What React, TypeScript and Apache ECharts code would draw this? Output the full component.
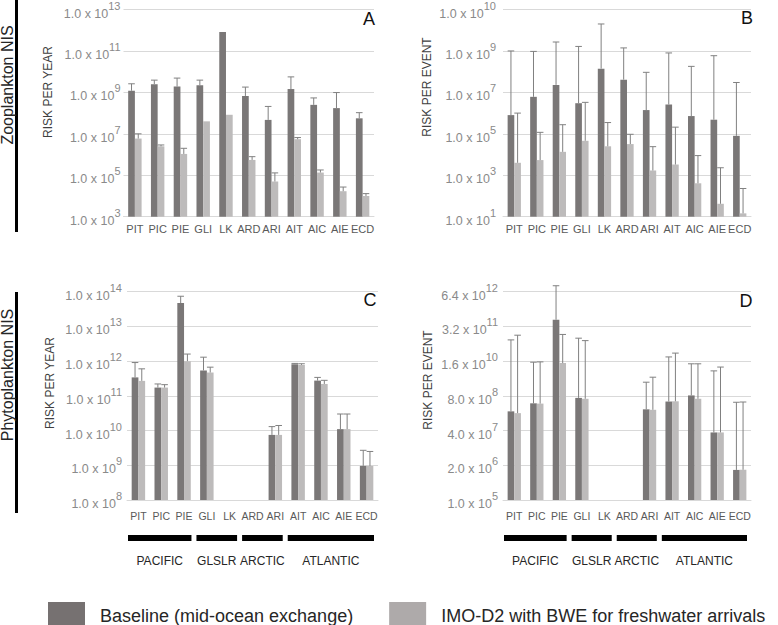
import React, { useEffect, useRef } from "react";
import * as echarts from "echarts";

// ---------- data ----------
const categories = ["PIT", "PIC", "PIE", "GLI", "LK", "ARD", "ARI", "AIT", "AIC", "AIE", "ECD"];

const regions = [
  { name: "PACIFIC", from: 0, to: 2 },
  { name: "GLSLR", from: 3, to: 4 },
  { name: "ARCTIC", from: 5, to: 6 },
  { name: "ATLANTIC", from: 7, to: 10 },
];

const BASE_NAME = "Baseline (mid-ocean exchange)";
const IMO_NAME = "IMO-D2 with BWE for freshwater arrivals";

// A: Zooplankton, risk per year
const zooYearTicks = ["1.0 x 10^3", "1.0 x 10^5", "1.0 x 10^7", "1.0 x 10^9", "1.0 x 10^11", "1.0 x 10^13"];
const zooBaselineYear = [1.2e9, 2.5e9, 1.9e9, 2.2e9, 8.3e11, 6.7e8, 4.7e7, 1.45e9, 2.5e8, 1.74e8, 5.6e7];
const zooBaselineYearErr = [2.6e9, 3.9e9, 4.9e9, 3.9e9, null, 1.8e9, 2.1e8, 5.6e9, 5.4e8, 9.8e8, 1.05e8];
const zooImoYear = [5.9e6, 2.5e6, 1.07e6, 4.0e7, 8.3e7, 5.5e5, 5.0e4, 5.5e6, 1.35e5, 1.7e4, 1.0e4];
const zooImoYearErr = [1.0e7, 2.9e6, 2.0e6, null, null, 7.9e5, 1.3e5, 6.6e6, 1.8e5, 2.7e4, 1.3e4];

// B: Zooplankton, risk per event
const zooEventTicks = ["1.0 x 10^1", "1.0 x 10^3", "1.0 x 10^5", "1.0 x 10^7", "1.0 x 10^9", "1.0 x 10^10"];
const zooBaselineEvent = [8.0e5, 6.1e6, 2.3e7, 3.0e6, 1.4e8, 4.1e7, 1.4e6, 2.6e6, 7.2e5, 4.8e5, 8.0e4];
const zooBaselineEventErr = [1.0e9, 9.5e8, 2.7e9, 1.65e9, 2.0e10, 1.4e9, 9.3e7, 8.0e8, 1.8e8, 5.9e8, 3.0e7];
const zooImoEvent = [4.0e3, 5.4e3, 1.35e4, 4.6e4, 2.5e4, 3.2e4, 1.7e3, 3.3e3, 4.1e2, 42, 14.5];
const zooImoEventErr = [1.0e6, 1.18e5, 2.75e5, 3.3e6, 3.5e5, 9.5e4, 2.4e4, 2.1e5, 8.9e3, 2.3e3, 2.3e2];

// C: Phytoplankton, risk per year
const phytoYearTicks = ["1.0 x 10^8", "1.0 x 10^9", "1.0 x 10^10", "1.0 x 10^11", "1.0 x 10^12", "1.0 x 10^13", "1.0 x 10^14"];
const phytoBaselineYear = [3.4e11, 1.73e11, 4.7e13, 5.4e11, null, null, 7.5e9, 8.2e11, 2.75e11, 1.1e10, 9.6e8];
const phytoBaselineYearErr = [9.1e11, 2.2e11, 7.4e13, 1.3e12, null, null, 1.3e10, 8.6e11, 3.4e11, 3.0e10, 2.7e9];
const phytoImoYear = [2.7e11, 1.73e11, 1.0e12, 4.7e11, null, null, 7.5e9, 7.8e11, 2.2e11, 1.1e10, 9.6e8];
const phytoImoYearErr = [6.0e11, 2.1e11, 1.6e12, 6.7e11, null, null, 1.4e10, 8.4e11, 2.8e11, 3.0e10, 2.5e9];

// D: Phytoplankton, risk per event
const phytoEventTicks = ["1.0 x 10^5", "2.0 x 10^6", "4.0 x 10^7", "8.0 x 10^8", "1.6 x 10^10", "3.2 x 10^11", "6.4 x 10^12"];
const phytoBaselineEvent = [2.1e8, 4.2e8, 5.7e11, 6.7e8, null, null, 2.5e8, 4.9e8, 8.3e8, 3.4e7, 1.34e6];
const phytoBaselineEventErr = [1.0e11, 1.46e10, 1.07e13, 1.16e11, null, null, 2.6e9, 2.3e10, 1.27e10, 6.9e9, 4.6e8];
const phytoImoEvent = [1.8e8, 4.1e8, 1.35e10, 6.2e8, null, null, 2.4e8, 5.0e8, 6.2e8, 3.4e7, 1.36e6];
const phytoImoEventErr = [1.5e11, 1.5e10, 1.6e11, 9.4e10, null, null, 4.0e9, 3.2e10, 1.27e10, 9.6e9, 4.7e8];

// ---------- styles / layout ----------
const DARK = "#7a7777";
const LIGHT = "#bdbbbb";
const ERR = "#808080";
const GRIDLINE = "#d9d9d9";
const TICK_COLOR = "#8a8a8a";
const SANS = "'Liberation Sans', Arial, sans-serif";
const BAR_FRAC = 0.295;

type Num = number | null;
interface Panel {
  base: number;
  min: number;
  ticks: string[];
  baseline: Num[];
  baselineErr: Num[];
  imo: Num[];
  imoErr: Num[];
  grid: { left: number; top: number; width: number; height: number };
  catSize: number;
  catMargin: number;
  tickMargin: number;
  letter: string;
  letterPos: [number, number];
  title: string;
  titlePos: [number, number];
}

const panels: Panel[] = [
  {
    base: 100, min: 1e3, ticks: zooYearTicks,
    baseline: zooBaselineYear, baselineErr: zooBaselineYearErr, imo: zooImoYear, imoErr: zooImoYearErr,
    grid: { left: 123.5, top: 7.3, width: 250.5, height: 209.4 },
    catSize: 11, catMargin: 7, tickMargin: 3,
    letter: "A", letterPos: [369, 19], title: "RISK PER YEAR", titlePos: [48, 92],
  },
  {
    base: 100, min: 10, ticks: zooEventTicks,
    baseline: zooBaselineEvent, baselineErr: zooBaselineEventErr, imo: zooImoEvent, imoErr: zooImoEventErr,
    grid: { left: 503, top: 7.3, width: 248, height: 209.4 },
    catSize: 11, catMargin: 7, tickMargin: 7,
    letter: "B", letterPos: [747, 18], title: "RISK PER EVENT", titlePos: [427, 87],
  },
  {
    base: 10, min: 1e8, ticks: phytoYearTicks,
    baseline: phytoBaselineYear, baselineErr: phytoBaselineYearErr, imo: phytoImoYear, imoErr: phytoImoYearErr,
    grid: { left: 127, top: 291.7, width: 251, height: 208.3 },
    catSize: 10.5, catMargin: 10, tickMargin: 5,
    letter: "C", letterPos: [370, 300], title: "RISK PER YEAR", titlePos: [50, 383],
  },
  {
    base: 20, min: 1e5, ticks: phytoEventTicks,
    baseline: phytoBaselineEvent, baselineErr: phytoBaselineEventErr, imo: phytoImoEvent, imoErr: phytoImoEventErr,
    grid: { left: 503, top: 291.7, width: 248, height: 208.3 },
    catSize: 10.5, catMargin: 10, tickMargin: 5,
    letter: "D", letterPos: [746, 301], title: "RISK PER EVENT", titlePos: [428, 380],
  },
];

const toStep = (p: Panel, v: number) => Math.log(v / p.min) / Math.log(p.base);

const makeErrRender = (sign: number) => (params: any, api: any) => {
  const c = api.value(0);
  const v = api.value(1);
  const e = api.value(2);
  const p0 = api.coord([c, v]);
  const p1 = api.coord([c, e]);
  const band = api.size([1, 0])[0];
  const x = p0[0] + (sign * band * BAR_FRAC) / 2;
  const half = 3.3;
  return {
    type: "group",
    children: [
      { type: "line", shape: { x1: x, y1: p0[1], x2: x, y2: p1[1] }, style: { stroke: ERR, lineWidth: 1 } },
      { type: "line", shape: { x1: x - half, y1: p1[1], x2: x + half, y2: p1[1] }, style: { stroke: ERR, lineWidth: 1 } },
    ],
  };
};

function buildOption() {
  const grid: any[] = [];
  const xAxis: any[] = [];
  const yAxis: any[] = [];
  const series: any[] = [];
  const graphic: any[] = [];

  panels.forEach((p, i) => {
    grid.push({ ...p.grid, containLabel: false });
    xAxis.push({
      type: "category",
      gridIndex: i,
      data: categories,
      axisTick: { show: false },
      axisLine: { show: true, lineStyle: { color: GRIDLINE, width: 1 } },
      axisLabel: { interval: 0, fontSize: p.catSize, color: "#595959", fontFamily: SANS, margin: p.catMargin },
    });
    const steps = p.ticks.length - 1;
    yAxis.push({
      type: "value",
      gridIndex: i,
      min: 0,
      max: steps,
      interval: 1,
      axisLine: { show: false },
      axisTick: { show: false },
      splitLine: { show: true, lineStyle: { color: GRIDLINE, width: 1 } },
      axisLabel: {
        margin: p.tickMargin,
        formatter: (val: number) => {
          const lbl = p.ticks[Math.round(val)] || "";
          const [m, e] = lbl.split("^");
          return `{m|${m}}{e|${e}}`;
        },
        rich: {
          m: { fontSize: 12.5, color: TICK_COLOR, fontFamily: SANS, padding: [8, 0, 0, 0] },
          e: { fontSize: 11, color: TICK_COLOR, fontFamily: SANS, padding: [0, 0, 8, 0] },
        },
      },
    });

    const mk = (arr: Num[]) => arr.map((v) => (v == null ? null : toStep(p, v)));
    series.push({
      name: BASE_NAME, type: "bar", xAxisIndex: i, yAxisIndex: i,
      data: mk(p.baseline), barWidth: `${BAR_FRAC * 100}%`, barGap: "0%",
      itemStyle: { color: DARK }, silent: true,
    });
    series.push({
      name: IMO_NAME, type: "bar", xAxisIndex: i, yAxisIndex: i,
      data: mk(p.imo), barWidth: `${BAR_FRAC * 100}%`, barGap: "0%",
      itemStyle: { color: LIGHT }, silent: true,
    });
    const errData = (vals: Num[], errs: Num[]) =>
      vals
        .map((v, k) => (v != null && errs[k] != null ? [k, toStep(p, v), toStep(p, errs[k] as number)] : null))
        .filter((d) => d != null);
    series.push({
      type: "custom", name: "errBase" + i, xAxisIndex: i, yAxisIndex: i, coordinateSystem: "cartesian2d",
      renderItem: makeErrRender(-1), data: errData(p.baseline, p.baselineErr), encode: { x: 0, y: [1, 2] },
      z: 5, silent: true, clip: false,
    });
    series.push({
      type: "custom", name: "errImo" + i, xAxisIndex: i, yAxisIndex: i, coordinateSystem: "cartesian2d",
      renderItem: makeErrRender(1), data: errData(p.imo, p.imoErr), encode: { x: 0, y: [1, 2] },
      z: 5, silent: true, clip: false,
    });

    graphic.push({
      type: "text", x: p.letterPos[0], y: p.letterPos[1],
      style: { text: p.letter, fontSize: 18, fill: "#111", fontFamily: SANS, align: "center", verticalAlign: "middle" },
    });
    graphic.push({
      type: "text", x: p.titlePos[0], y: p.titlePos[1], rotation: Math.PI / 2,
      style: { text: p.title, fontSize: 12, fill: "#404040", fontFamily: SANS, align: "center", verticalAlign: "middle" },
    });

    // region bars under the bottom panels
    if (i >= 2) {
      const band = p.grid.width / categories.length;
      regions.forEach((r) => {
        const x0 = p.grid.left + r.from * band + 1;
        const x1 = p.grid.left + (r.to + 1) * band - 4;
        graphic.push({ type: "rect", shape: { x: x0, y: 535, width: x1 - x0, height: 6 }, style: { fill: "#000" } });
        graphic.push({
          type: "text", x: (x0 + x1) / 2, y: 561,
          style: { text: r.name, fontSize: 12, fill: "#262626", fontFamily: SANS, align: "center", verticalAlign: "middle" },
        });
      });
    }
  });

  // row labels and bars
  graphic.push({ type: "rect", shape: { x: 15, y: 0, width: 3, height: 232 }, style: { fill: "#000" } });
  graphic.push({ type: "rect", shape: { x: 15, y: 292, width: 3, height: 221 }, style: { fill: "#000" } });
  graphic.push({
    type: "text", x: 7, y: 85, rotation: Math.PI / 2,
    style: { text: "Zooplankton NIS", fontSize: 16, fill: "#262626", fontFamily: SANS, align: "center", verticalAlign: "middle" },
  });
  graphic.push({
    type: "text", x: 7, y: 375, rotation: Math.PI / 2,
    style: { text: "Phytoplankton NIS", fontSize: 16, fill: "#262626", fontFamily: SANS, align: "center", verticalAlign: "middle" },
  });

  return {
    animation: false,
    backgroundColor: "#ffffff",
    grid,
    xAxis,
    yAxis,
    series,
    graphic,
    legend: {
      left: 43,
      top: 597,
      icon: "rect",
      itemWidth: 37,
      itemHeight: 27,
      itemGap: 36,
      selectedMode: false,
      textStyle: { fontSize: 18, color: "#262626", fontFamily: SANS, padding: [0, 0, 0, 10] },
      data: [
        { name: BASE_NAME, itemStyle: { color: "#767171" } },
        { name: IMO_NAME, itemStyle: { color: "#aeaaaa" } },
      ],
    },
  };
}

export default function App() {
  const ref = useRef<HTMLDivElement>(null);
  useEffect(() => {
    if (!ref.current) return;
    const chart = echarts.init(ref.current, null, { renderer: "svg" });
    chart.setOption(buildOption() as any);
    return () => chart.dispose();
  }, []);
  return <div ref={ref} style={{ position: "fixed", left: 0, top: 0, width: 778, height: 625 }} />;
}
